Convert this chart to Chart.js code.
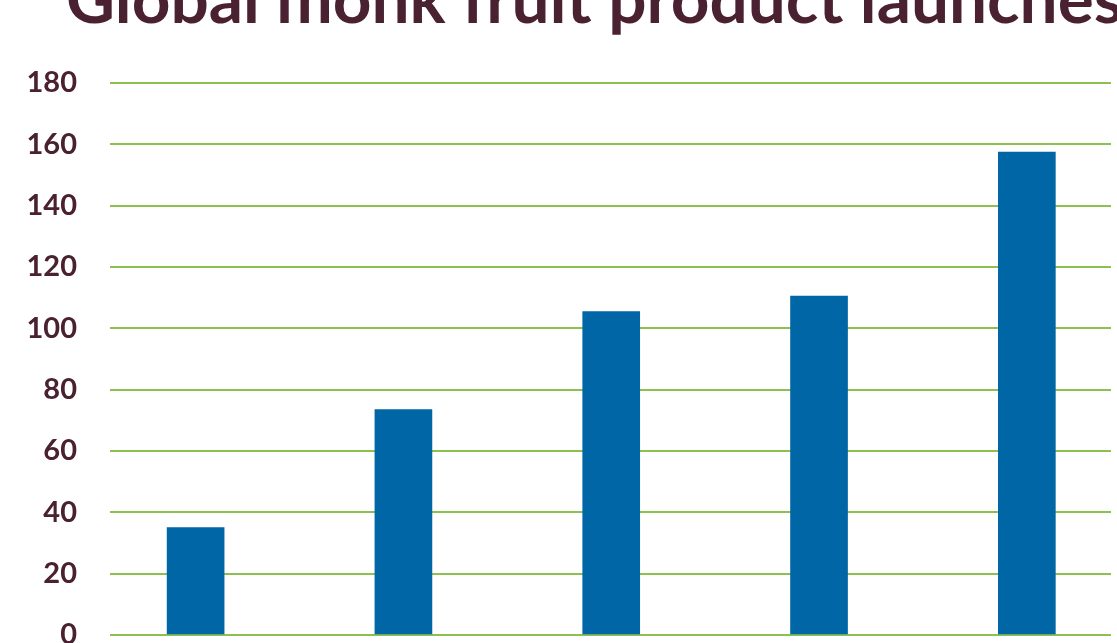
<!DOCTYPE html>
<html>
<head>
<meta charset="utf-8">
<script src="https://cdn.jsdelivr.net/npm/chart.js@4"></script>
<style>
  html, body { margin: 0; padding: 0; background: #fff; overflow: hidden; }
  canvas { display: block; }
</style>
</head>
<body>
<canvas id="chart" width="1117" height="643"></canvas>
<script>
// Data (x-axis labels are cropped out of the reference, so bars are indexed)
const title = 'Global monk fruit product launches';
const barIndex = [0, 1, 2, 3, 4];
const launches = [35, 73.5, 105.5, 110.5, 157.5];
const yTicks = [0, 20, 40, 60, 80, 100, 120, 140, 160, 180];

// Colors
const COLORS = {
  text: '#4a2130',
  bar: '#0066a6',
  grid: '#8cc152',
};

// Title drawn partly above the canvas edge, as in the reference
const titlePlugin = {
  id: 'croppedTitle',
  afterDraw(chart) {
    const ctx = chart.ctx;
    ctx.save();
    ctx.font = 'bold 50px Lato';
    const w = ctx.measureText(title).width;
    const size = 50 * 1058 / w;
    ctx.font = 'bold ' + size.toFixed(1) + 'px Lato';
    ctx.fillStyle = COLORS.text;
    ctx.textBaseline = 'alphabetic';
    ctx.textAlign = 'left';
    ctx.fillText(title, 66, 23);
    ctx.restore();
  },
};

function draw() {
  new Chart(document.getElementById('chart'), {
    type: 'bar',
    data: {
      datasets: [{
        label: title,
        data: barIndex.map((x, i) => ({ x, y: launches[i] })),
        backgroundColor: COLORS.bar,
        borderWidth: 0,
        barThickness: 57,
      }],
    },
    options: {
      responsive: false,
      animation: false,
      layout: { padding: { top: 83, right: 6, bottom: 8, left: 0 } },
      plugins: {
        legend: { display: false },
        tooltip: { enabled: false },
        title: { display: false },
      },
      scales: {
        x: {
          type: 'linear',
          display: false,
          offset: false,
          min: -0.412,
          max: 4.405,
        },
        y: {
          min: 0,
          max: 180,
          afterBuildTicks: (scale) => { scale.ticks = yTicks.map(v => ({ value: v })); },
          afterFit: (scale) => {
            scale.width = 110;
            scale.paddingTop = 0;
            scale.paddingBottom = 0;
          },
          border: { display: false },
          grid: { color: COLORS.grid, lineWidth: 2, drawTicks: false },
          ticks: {
            color: COLORS.text,
            padding: 33,
            font: { family: 'Lato', size: 29, weight: 'bold' },
          },
        },
      },
    },
    plugins: [titlePlugin],
  });
}

document.fonts.load('bold 29px Lato').then(draw, draw);
</script>
</body>
</html>
